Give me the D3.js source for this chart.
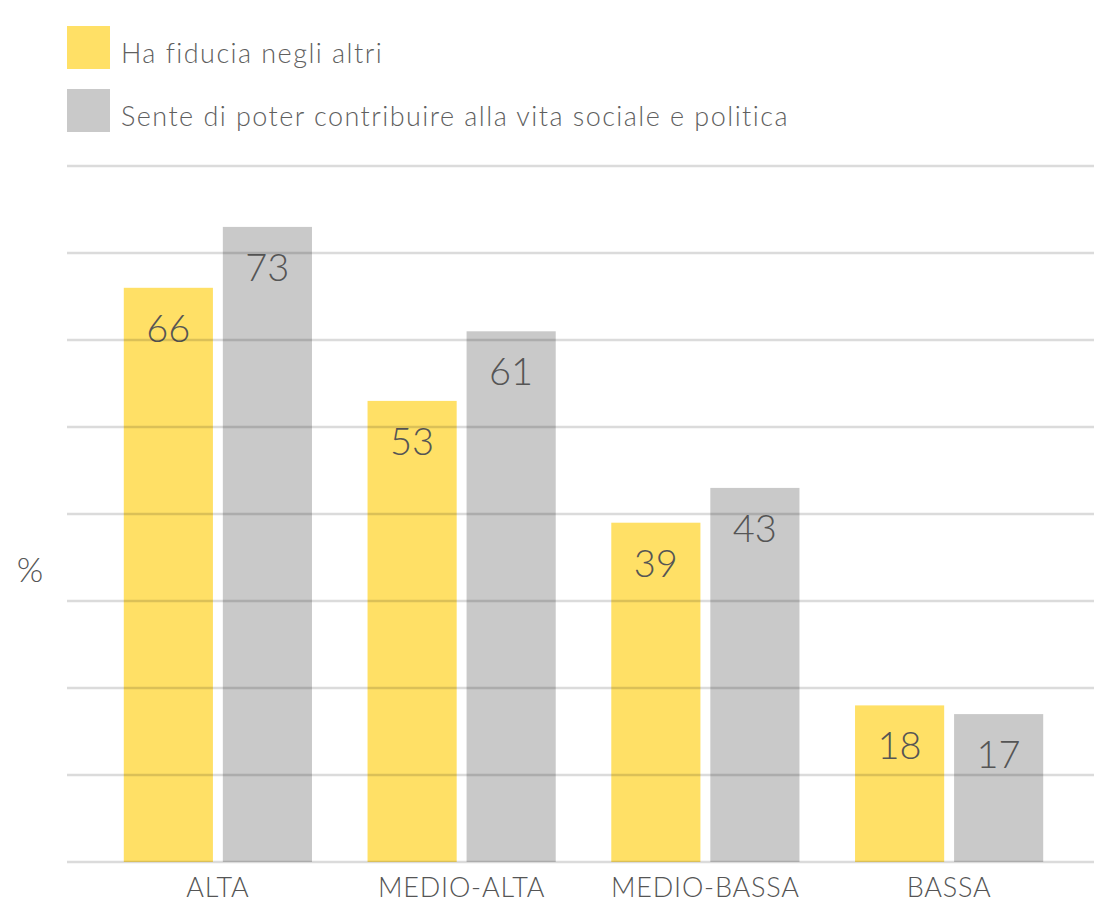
<!DOCTYPE html>
<html>
<head>
<meta charset="utf-8">
<script src="https://cdn.jsdelivr.net/npm/d3@7"></script>
<style>
  body { margin: 0; background: #fff; }
  svg text { font-family: Lato, "Open Sans", sans-serif; font-weight: 300; fill: #555; }
</style>
</head>
<body>
<div id="chart"></div>
<script>
// data
const categories = ["ALTA", "MEDIO-ALTA", "MEDIO-BASSA", "BASSA"];
const seriesNames = ["Ha fiducia negli altri", "Sente di poter contribuire alla vita sociale e politica"];
const fiducia = [66, 53, 39, 18];
const contribuire = [73, 61, 43, 17];
const yTicks = [0, 10, 20, 30, 40, 50, 60, 70, 80];

const colors = ["#ffe066", "#c9c9c9"];

const width = 1094;
const height = 904;

const svg = d3.select("#chart")
  .append("svg")
  .attr("width", width)
  .attr("height", height);

const rows = categories.map((c, i) => ({ cat: c, values: [fiducia[i], contribuire[i]] }));

const x0 = d3.scaleBand()
  .domain(categories)
  .range([96, 1071])
  .paddingInner(0.228)
  .paddingOuter(0.114);

const x1 = d3.scaleBand()
  .domain(d3.range(seriesNames.length))
  .range([0, x0.bandwidth()])
  .paddingInner(0.1);

const y = d3.scaleLinear()
  .domain([0, 80])
  .range([862, 166]);

// bars
const groups = svg.selectAll(".group")
  .data(rows)
  .enter()
  .append("g")
  .attr("transform", d => `translate(${x0(d.cat)},0)`);

groups.selectAll("rect")
  .data(d => d.values)
  .enter()
  .append("rect")
  .attr("x", (d, i) => x1(i))
  .attr("y", d => y(d))
  .attr("width", x1.bandwidth())
  .attr("height", d => y(0) - y(d))
  .attr("fill", (d, i) => colors[i]);

// gridlines on top, semi transparent
svg.selectAll(".grid")
  .data(yTicks)
  .enter()
  .append("line")
  .attr("x1", 67)
  .attr("x2", width)
  .attr("y1", d => y(d))
  .attr("y2", d => y(d))
  .attr("stroke", "rgba(0,0,0,0.14)")
  .attr("stroke-width", 2.5);

// value labels
groups.selectAll(".val")
  .data(d => d.values)
  .enter()
  .append("text")
  .attr("x", (d, i) => x1(i) + x1.bandwidth() / 2)
  .attr("y", d => y(d) + 54)
  .attr("text-anchor", "middle")
  .style("font-size", "38px")
  .text(d => d);

// category labels
svg.selectAll(".cat")
  .data(categories)
  .enter()
  .append("text")
  .attr("x", d => x0(d) + x0.bandwidth() / 2)
  .attr("y", 897)
  .attr("text-anchor", "middle")
  .style("font-size", "27px")
  .style("letter-spacing", "0.8px")
  .text(d => d);

// % label
svg.append("text")
  .attr("x", 30)
  .attr("y", 582)
  .attr("text-anchor", "middle")
  .style("font-size", "34px")
  .text("%");

// legend
const legend = svg.selectAll(".legend")
  .data(seriesNames)
  .enter()
  .append("g")
  .attr("transform", (d, i) => `translate(67,${26 + i * 63})`);

legend.append("rect")
  .attr("width", 43)
  .attr("height", 43)
  .attr("fill", (d, i) => colors[i]);

legend.append("text")
  .attr("x", 54)
  .attr("y", 37)
  .style("font-size", "27px")
  .style("letter-spacing", "1.45px")
  .style("fill", "#5f5f5f")
  .text(d => d);
</script>
</body>
</html>
